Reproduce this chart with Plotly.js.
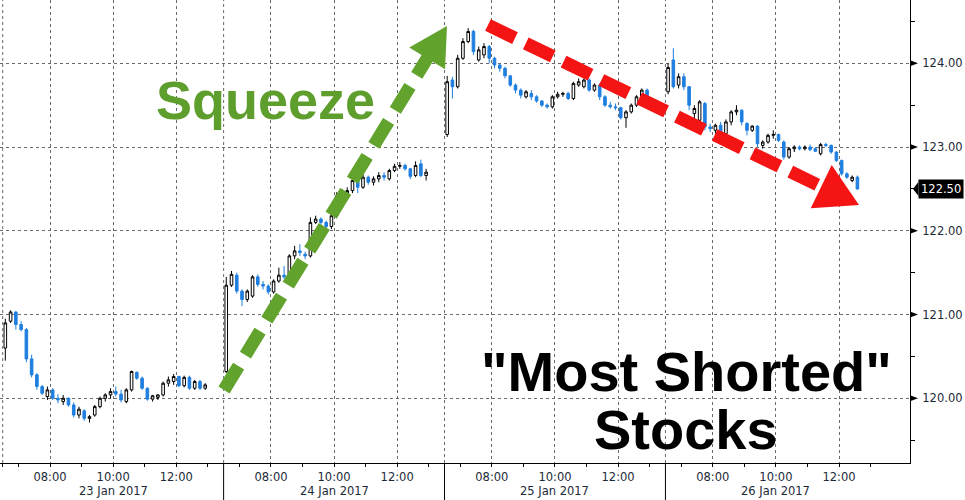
<!DOCTYPE html>
<html><head><meta charset="utf-8">
<script src="https://cdn.plot.ly/plotly-3.0.1.min.js"></script>
<style>html,body{margin:0;padding:0;background:#fff}#chart{width:965px;height:500px}</style>
</head><body><div id="chart"></div>
<script>
// ---------- data ----------
const dayLabels = ['23 Jan 2017','24 Jan 2017','25 Jan 2017','26 Jan 2017'];
const timeTickLabels = ['08:00','10:00','12:00'];
const timeTickHours = [8, 10, 12];
const priceTicks = [120, 121, 122, 123, 124];
const sessionStartHour = 6.5;   // 06:30
const sessionHours = 7;         // axis span per day
const barMinutes = 10;

const open1  = [120.6,120.92,121.03,120.88,120.82,120.47,120.28,120.14,120.02,120.1,120.0,119.96,120.0,119.92,119.8,119.85,119.76,119.8,119.9,120.0,120.04,120.08,120.05,119.96,120.1,120.31,120.24,120.12,119.99,120.01,120.04,120.18,120.2,120.26,120.15,120.25,120.12,120.2,120.12];
const high1  = [120.95,121.05,121.04,120.92,120.84,120.52,120.3,120.16,120.14,120.12,120.05,120.04,120.01,119.95,119.9,119.87,119.8,119.92,120.02,120.06,120.12,120.14,120.1,120.12,120.33,120.32,120.26,120.13,120.04,120.05,120.2,120.26,120.29,120.27,120.27,120.27,120.22,120.22,120.18];
const low1   = [120.45,120.9,120.82,120.8,120.43,120.25,120.1,120.04,119.98,119.98,119.94,119.92,119.9,119.77,119.76,119.73,119.71,119.78,119.88,119.96,120.0,120.02,119.95,119.94,120.08,120.22,120.1,119.97,119.96,119.98,120.02,120.14,120.16,120.13,120.13,120.1,120.1,120.1,120.1];
const close1 = [120.9,121.03,120.88,120.82,120.47,120.28,120.14,120.06,120.1,120.0,119.98,120.0,119.92,119.8,119.87,119.76,119.78,119.9,120.0,120.04,120.08,120.05,119.98,120.1,120.32,120.24,120.12,119.99,120.03,120.04,120.18,120.22,120.26,120.15,120.25,120.12,120.2,120.12,120.16];

const open2  = [120.32,121.35,121.47,121.28,121.18,121.22,121.45,121.36,121.34,121.27,121.4,121.47,121.44,121.7,121.76,121.72,121.7,122.1,122.14,122.1,122.05,122.18,122.42,122.45,122.48,122.6,122.52,122.64,122.58,122.62,122.66,122.62,122.72,122.77,122.78,122.74,122.66,122.8,122.66];
const high2  = [121.45,121.52,121.5,121.3,121.3,121.47,121.48,121.4,121.36,121.42,121.56,121.58,121.72,121.82,121.84,121.75,122.16,122.18,122.16,122.12,122.2,122.46,122.5,122.52,122.62,122.62,122.68,122.66,122.65,122.7,122.7,122.74,122.8,122.82,122.8,122.75,122.83,122.85,122.74];
const low2   = [120.3,121.33,121.25,121.1,121.15,121.2,121.33,121.3,121.24,121.25,121.38,121.42,121.42,121.66,121.7,121.66,121.68,122.08,122.06,122.03,122.02,122.15,122.38,122.4,122.45,122.45,122.5,122.55,122.54,122.58,122.6,122.6,122.7,122.74,122.72,122.62,122.64,122.64,122.6];
const close2 = [121.35,121.48,121.28,121.18,121.28,121.45,121.36,121.34,121.27,121.4,121.47,121.45,121.7,121.76,121.74,121.7,122.1,122.14,122.1,122.05,122.18,122.42,122.45,122.48,122.6,122.52,122.64,122.58,122.62,122.66,122.64,122.72,122.77,122.78,122.74,122.65,122.78,122.66,122.7];

const open3  = [123.15,123.8,123.72,124.06,124.26,124.38,124.04,124.1,124.2,124.06,123.98,123.94,123.85,123.74,123.68,123.6,123.64,123.6,123.55,123.5,123.48,123.6,123.63,123.64,123.58,123.74,123.72,123.8,123.68,123.74,123.6,123.5,123.48,123.47,123.35,123.42,123.5,123.6,123.68];
const high3  = [123.85,123.84,124.1,124.3,124.42,124.4,124.2,124.24,124.22,124.08,124.0,123.96,123.86,123.76,123.7,123.68,123.68,123.62,123.56,123.52,123.62,123.66,123.66,123.66,123.78,123.82,123.82,123.82,123.76,123.76,123.62,123.54,123.52,123.48,123.44,123.52,123.62,123.7,123.7];
const low3   = [123.12,123.58,123.7,124.04,124.24,124.1,124.02,124.06,124.0,123.94,123.9,123.82,123.72,123.64,123.58,123.58,123.56,123.53,123.48,123.46,123.46,123.58,123.6,123.56,123.56,123.72,123.7,123.66,123.66,123.56,123.48,123.46,123.44,123.33,123.23,123.4,123.48,123.58,123.56];
const close3 = [123.78,123.72,124.06,124.26,124.38,124.14,124.16,124.2,124.06,123.98,123.94,123.85,123.74,123.68,123.62,123.66,123.6,123.55,123.5,123.48,123.6,123.63,123.64,123.58,123.76,123.78,123.8,123.68,123.74,123.6,123.5,123.48,123.47,123.35,123.42,123.5,123.6,123.68,123.58];

const open4  = [123.66,124.04,123.74,123.84,123.72,123.4,123.32,123.52,123.24,123.2,123.26,123.16,123.3,123.42,123.44,123.28,123.2,123.25,123.02,123.06,123.14,123.15,123.06,122.88,122.98,123.0,122.98,123.0,122.98,122.92,123.03,123.02,122.94,122.84,122.68,122.6,122.64];
const high4  = [124.0,124.18,123.88,123.88,123.73,123.5,123.56,123.54,123.28,123.28,123.3,123.33,123.44,123.5,123.45,123.3,123.26,123.26,123.08,123.16,123.2,123.16,123.08,123.0,123.02,123.02,123.02,123.03,123.0,123.05,123.05,123.03,122.95,122.85,122.7,122.66,122.66];
const low4   = [123.63,123.7,123.7,123.68,123.44,123.32,123.3,123.2,123.18,123.16,123.14,123.14,123.26,123.38,123.26,123.14,123.18,123.0,122.98,123.04,123.1,123.06,122.85,122.86,122.94,122.96,122.96,122.95,122.94,122.9,123.0,122.92,122.82,122.66,122.62,122.58,122.49];
const close4 = [123.95,123.72,123.84,123.72,123.5,123.46,123.54,123.24,123.22,123.26,123.16,123.3,123.42,123.44,123.3,123.2,123.25,123.04,123.06,123.14,123.15,123.08,122.88,122.98,123.0,122.98,123.0,122.97,122.95,123.03,123.02,122.94,122.84,122.68,122.64,122.64,122.5];

// ---------- build ----------
const opens = [open1, open2, open3, open4];
const highs = [high1, high2, high3, high4];
const lows = [low1, low2, low3, low4];
const closes = [close1, close2, close3, close4];

const X=[], O=[], H=[], L=[], C=[];
opens.forEach((arr, d) => {
  arr.forEach((v, i) => {
    X.push(d * sessionHours + (i * barMinutes + barMinutes / 2) / 60);
    O.push(v); H.push(highs[d][i]); L.push(lows[d][i]); C.push(closes[d][i]);
  });
});
const lastClose = C[C.length - 1];

const tickvals = [], ticktext = [], minorvals = [];
dayLabels.forEach((lab, d) => {
  timeTickHours.forEach((h, k) => {
    tickvals.push(d * sessionHours + h - sessionStartHour);
    ticktext.push(timeTickLabels[k]);
  });
  [7, 9, 11, 13].forEach(h => minorvals.push(d * sessionHours + h - sessionStartHour));
});
minorvals.push(0);

const PW = 910, PH = 463;
const px = x => x / PW;
const py = y => 1 - y / PH;

const BLUE = '#1f7fdf';
const GRID = '#6a6a6a';
const AXFONT = 'DejaVu Sans, Tahoma, Liberation Sans, sans-serif';
const TXT = '#1c2a38';

const shapes = [];
dayLabels.forEach((lab, d) => {
  shapes.push({type:'line', xref:'x', yref:'paper', x0:d*sessionHours, x1:d*sessionHours, y0:0, y1:1,
    line:{color:GRID, width:1, dash:'dot'}, layer:'below'});
  if (d > 0) shapes.push({type:'line', xref:'x', yref:'paper', x0:d*sessionHours, x1:d*sessionHours, y0:-37/PH, y1:0,
    line:{color:'#000', width:1}});
});
priceTicks.forEach(t => {
  shapes.push({type:'path', xref:'paper', yref:'y',
    path:`M 1 ${t+0.036} L ${1+8/PW} ${t} L 1 ${t-0.036} Z`, fillcolor:'#000', line:{width:0}});
});
// last price pointer
shapes.push({type:'path', xref:'paper', yref:'y',
  path:`M ${1+3/PW} ${lastClose} L ${1+8.5/PW} ${lastClose+0.085} L ${1+8.5/PW} ${lastClose-0.085} Z`,
  fillcolor:'#000', line:{width:0}});

// green arrow
const gS = [224, 390], gT = [447, 26];
(function(){
  const dx = gT[0]-gS[0], dy = gT[1]-gS[1], len = Math.hypot(dx,dy), ux = dx/len, uy = dy/len;
  const hl = 38, hw = 21;
  const bc = [gT[0]-ux*hl, gT[1]-uy*hl];
  const c1 = [bc[0]-uy*hw, bc[1]+ux*hw], c2 = [bc[0]+uy*hw, bc[1]-ux*hw];
  shapes.push({type:'line', xref:'paper', yref:'paper', x0:px(gS[0]), y0:py(gS[1]), x1:px(bc[0]+ux*2), y1:py(bc[1]+uy*2),
    line:{color:'#62a32e', width:13, dash:'28px,13px'}});
  shapes.push({type:'path', xref:'paper', yref:'paper',
    path:`M ${px(gT[0])} ${py(gT[1])} L ${px(c1[0])} ${py(c1[1])} L ${px(c2[0])} ${py(c2[1])} Z`,
    fillcolor:'#62a32e', line:{width:0}});
})();
// red arrow
const rS = [488, 25], rT = [859, 205];
(function(){
  const dx = rT[0]-rS[0], dy = rT[1]-rS[1], len = Math.hypot(dx,dy), ux = dx/len, uy = dy/len;
  const hl = 42, hw = 24;
  const bc = [rT[0]-ux*hl, rT[1]-uy*hl];
  const c1 = [bc[0]-uy*hw, bc[1]+ux*hw], c2 = [bc[0]+uy*hw, bc[1]-ux*hw];
  shapes.push({type:'line', xref:'paper', yref:'paper', x0:px(rS[0]), y0:py(rS[1]), x1:px(bc[0]+ux*2), y1:py(bc[1]+uy*2),
    line:{color:'#f51414', width:13, dash:'30px,12px'}});
  shapes.push({type:'path', xref:'paper', yref:'paper',
    path:`M ${px(rT[0])} ${py(rT[1])} L ${px(c1[0])} ${py(c1[1])} L ${px(c2[0])} ${py(c2[1])} Z`,
    fillcolor:'#f51414', line:{width:0}});
})();

const annotations = [];
dayLabels.forEach((lab, d) => {
  annotations.push({text: lab, xref:'x', yref:'paper', x: d*sessionHours + sessionHours/2, y: -28/PH,
    yanchor:'middle', xanchor:'center', showarrow:false, font:{family:AXFONT, size:11.5, color:TXT}});
});
annotations.push({text: lastClose.toFixed(2), xref:'paper', yref:'y', x:1, y:lastClose, xanchor:'left', yanchor:'middle',
  xshift:8, showarrow:false, bgcolor:'#000', borderpad:2, font:{family:AXFONT, size:11.5, color:'#fff'}});
annotations.push({text:'<b>Squeeze</b>', xref:'paper', yref:'paper', x:px(265), y:py(100), xanchor:'center', yanchor:'middle',
  showarrow:false, font:{family:'Liberation Sans, Arial, sans-serif', size:54, color:'#5e9e2c'}});
annotations.push({text:'<b>"Most Shorted"</b>', xref:'paper', yref:'paper', x:px(686), y:py(371), xanchor:'center', yanchor:'middle',
  showarrow:false, font:{family:'Liberation Sans, Arial, sans-serif', size:56, color:'#000'}});
annotations.push({text:'<b>Stocks</b>', xref:'paper', yref:'paper', x:px(686), y:py(429), xanchor:'center', yanchor:'middle',
  showarrow:false, font:{family:'Liberation Sans, Arial, sans-serif', size:56, color:'#000'}});

const trace = {
  type:'candlestick', x:X, open:O, high:H, low:L, close:C,
  increasing:{line:{color:'#000', width:1}, fillcolor:'#fff'},
  decreasing:{line:{color:BLUE, width:1}, fillcolor:BLUE},
  whiskerwidth:0, hoverinfo:'skip', showlegend:false
};

const layout = {
  width:965, height:500, paper_bgcolor:'#fff', plot_bgcolor:'#fff',
  margin:{l:0, r:55, t:0, b:37},
  showlegend:false,
  xaxis:{type:'linear', range:[-0.0856, 28.749], rangeslider:{visible:false},
    tickvals, ticktext, ticks:'outside', ticklen:3, tickcolor:'#000',
    tickfont:{family:AXFONT, size:11.5, color:TXT},
    showgrid:true, gridcolor:GRID, griddash:'dot', gridwidth:1,
    showline:true, linecolor:'#000', linewidth:1, zeroline:false,
    minor:{tickvals:minorvals, ticks:'outside', ticklen:3, tickcolor:'#000', showgrid:false}},
  yaxis:{side:'right', range:[119.227, 124.756], tickvals:priceTicks, ticktext:priceTicks.map(v=>v.toFixed(2)),
    ticks:'outside', ticklen:9, tickcolor:'rgba(0,0,0,0)',
    tickfont:{family:AXFONT, size:11.5, color:TXT},
    showgrid:true, gridcolor:GRID, griddash:'dot', gridwidth:1,
    showline:true, linecolor:'#000', linewidth:1, zeroline:false,
    minor:{tickvals:[119.5,120.5,121.5,122.5,123.5,124.5], ticks:'outside', ticklen:4, tickcolor:'#000', showgrid:false}},
  shapes, annotations
};

Plotly.newPlot('chart', [trace], layout, {displayModeBar:false, staticPlot:true});
</script>
</body></html>
